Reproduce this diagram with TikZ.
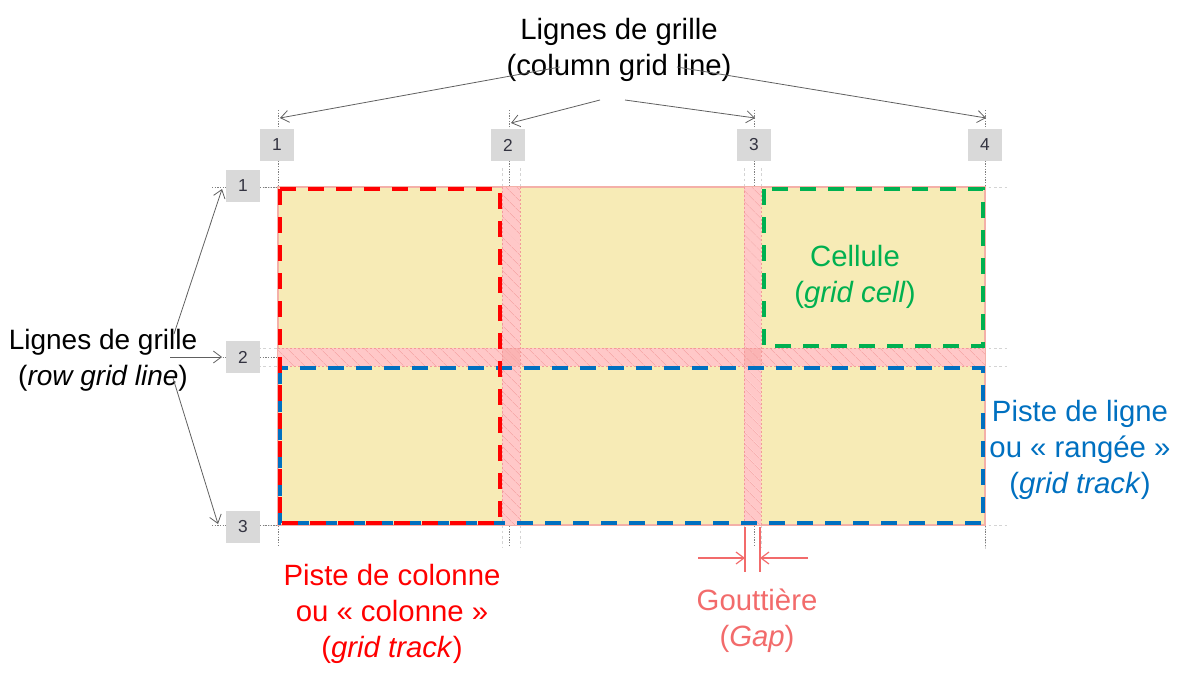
\documentclass[tikz,border=0pt]{standalone}
\usepackage{fontspec}
\setmainfont{Liberation Sans}
\usetikzlibrary{arrows.meta,patterns.meta}
\definecolor{cellyellow}{HTML}{F7EBB6}
\definecolor{gutpink}{HTML}{FFC8C8}
\definecolor{gutdark}{HTML}{FBB4B4}
\definecolor{hatchpink}{HTML}{F7ABAB}
\definecolor{edgepink}{HTML}{F39A9A}
\definecolor{borderpink}{HTML}{F4B0A8}
\definecolor{trackred}{HTML}{FF0000}
\definecolor{trackgreen}{HTML}{00B050}
\definecolor{trackblue}{HTML}{0070C0}
\definecolor{gapcol}{HTML}{F26B6B}
\definecolor{boxgray}{HTML}{D9D9D9}
\definecolor{numtext}{HTML}{333340}
\definecolor{arrgray}{HTML}{606060}
\definecolor{linegray}{HTML}{808080}
\definecolor{faintgray}{HTML}{D4D4D4}
\begin{document}
\begin{tikzpicture}[x=0.75pt,y=-0.75pt,
  gridline/.style={draw=linegray,line width=0.6pt,dash pattern=on 1pt off 1pt},
  faint/.style={draw=faintgray,line width=0.75pt,dash pattern=on 2pt off 2pt},
  numbox/.style={fill=boxgray,minimum width=25.5pt,minimum height=24pt,inner sep=0pt,
    font=\fontsize{13}{15}\selectfont,text=numtext},
  arr/.style={draw=arrgray,line width=0.6pt,-{Straight Barb[length=6pt,width=9pt]}},
  lbl/.style={font=\fontsize{22}{27}\selectfont,align=center,inner sep=0pt},
  track/.style={line width=3pt,dash pattern=on 12pt off 9pt},
  hatch/.style={pattern={Lines[angle=-45,distance=6.5pt,line width=0.7pt]},pattern color=hatchpink},
  gutedge/.style={draw=edgepink,line width=0.75pt,dash pattern=on 1.5pt off 1.5pt},
  gaparr/.style={draw=gapcol,line width=0.9pt,-{Straight Barb[length=6pt,width=9pt]}},
  gapline/.style={draw=gapcol,line width=0.9pt}]
\useasboundingbox (0,0) rectangle (1195,682);

% faint guide lines (gutter edges, extensions)
\foreach \gx in {502,520,744,761}{\draw[faint] (\gx,168) -- (\gx,547);}
\foreach \gy in {187,348,366,525}{\draw[faint] (258,\gy) -- (1007,\gy);}
\draw[faint] (985,525) -- (985,550);

% column grid lines
\foreach \cx in {278,509,754,985}{\draw[gridline] (\cx,110) -- (\cx,545);}
% row grid lines
\foreach \ry in {187,357,525}{\draw[gridline] (212,\ry) -- (278,\ry);}

% grid area
\fill[cellyellow,draw=borderpink,line width=0.9pt] (278,187) rectangle (985,525);
% gutters
\fill[gutpink] (502,187) rectangle (520,525);
\fill[gutpink] (744,187) rectangle (761,525);
\fill[gutpink] (278,348) rectangle (985,366);
\fill[gutdark] (502,348) rectangle (520,366);
\fill[gutdark] (744,348) rectangle (761,366);
\fill[hatch] (502,187) rectangle (520,525);
\fill[hatch] (744,187) rectangle (761,525);
\fill[hatch] (278,348) rectangle (985,366);
\draw[gutedge] (502,187) -- (502,525) (520,187) -- (520,525);
\draw[gutedge] (744,187) -- (744,525) (761,187) -- (761,525);
\draw[gutedge] (278,348) -- (985,348) (278,366) -- (985,366);

% tracks
\draw[track,trackblue] (280,368) rectangle (983,523);
\draw[track,trackgreen] (764,189) rectangle (983,346);
\draw[track,trackred] (280,189) rectangle (500,523);

% number boxes
\node[numbox] (c1) at (277,145) {1};
\node[numbox] (c2) at (508,145) {2};
\node[numbox] (c3) at (754,145) {3};
\node[numbox] (c4) at (985,145) {4};
\node[numbox] (r1) at (243,186) {1};
\node[numbox] (r2) at (243,357) {2};
\node[numbox] (r3) at (243,527) {3};

% arrow targets
\coordinate (t1) at (280,118);
\coordinate (t2) at (511,123);
\coordinate (t3) at (755,118);
\coordinate (t4) at (986,118);
\coordinate (s1) at (222,189);
\coordinate (s2) at (222,357);
\coordinate (s3) at (218,524);

% labels
\node[lbl] (topl) at (619,50) {Lignes de grille\\(column grid line)};
\node[lbl,font=\fontsize{21}{27}\selectfont] (leftl) at (103,360) {Lignes de grille\\(\textit{row grid line})};
\node[lbl,text=trackgreen] (celll) at (855,277) {Cellule\\(\textit{grid cell})};
\node[lbl,text=trackblue] (rowl) at (1080,450) {Piste de ligne\\ou « rangée »\\(\textit{grid track})};
\node[lbl,text=trackred] (coll) at (392,614) {Piste de colonne\\ou « colonne »\\(\textit{grid track})};
\node[lbl,text=gapcol] (gapl) at (757,621) {Gouttière\\(\textit{Gap})};

% top arrows
\coordinate (a1) at (560,67);
\coordinate (a2) at (600,100);
\coordinate (a3) at (625,100);
\coordinate (a4) at (677,67);
\draw[arr] (a1) -- (t1);
\draw[arr] (a2) -- (t2);
\draw[arr] (a3) -- (t3);
\draw[arr] (a4) -- (t4);

% left arrows
\coordinate (b1) at (174,334);
\coordinate (b2) at (170,357);
\coordinate (b3) at (173,378);
\draw[arr] (b1) -- (s1);
\draw[arr] (b2) -- (s2);
\draw[arr] (b3) -- (s3);

% gap marker
\coordinate (g1t) at (745,527);
\coordinate (g1b) at (745,572);
\coordinate (g2t) at (760,527);
\coordinate (g2b) at (760,572);
\coordinate (gl) at (698,558);
\coordinate (gla) at (745,558);
\coordinate (gr) at (808,558);
\coordinate (gra) at (760,558);
\draw[gapline] (g1t) -- (g1b);
\draw[gapline] (g2t) -- (g2b);
\draw[gaparr] (gl) -- (gla);
\draw[gaparr] (gr) -- (gra);
\end{tikzpicture}
\end{document}
